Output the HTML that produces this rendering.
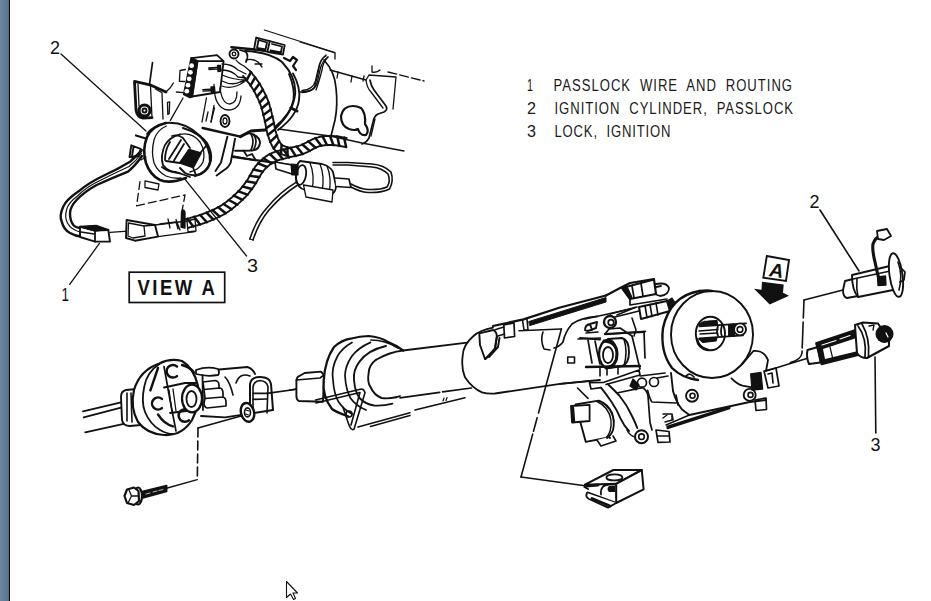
<!DOCTYPE html>
<html><head><meta charset="utf-8"><style>
html,body{margin:0;padding:0;background:#fff;width:931px;height:601px;overflow:hidden}
#strip{position:absolute;left:0;top:0;width:8px;height:601px;background:linear-gradient(to right,#6e88a1,#5a7491)}
#edge{position:absolute;left:8px;top:0;width:2px;height:601px;background:linear-gradient(to right,#5a6b7c 0,#5a6b7c 50%,#060c14 50%,#060c14 100%)}
svg{position:absolute;left:0;top:0}
svg text{font-family:"Liberation Sans",sans-serif}
</style></head><body>
<div id="strip"></div><div id="edge"></div>
<svg width="931" height="601" viewBox="0 0 931 601">
<g id="legend" fill="#1a1a1a" font-size="15.6" word-spacing="5">
<text x="527" y="91" textLength="6" lengthAdjust="spacingAndGlyphs">1</text>
<text transform="translate(553.5,91) scale(0.84,1)" textLength="284" lengthAdjust="spacing">PASSLOCK WIRE AND ROUTING</text>
<text x="527" y="114" textLength="9" lengthAdjust="spacingAndGlyphs">2</text>
<text transform="translate(554.5,114) scale(0.84,1)" textLength="284" lengthAdjust="spacing">IGNITION CYLINDER, PASSLOCK</text>
<text x="527" y="136.5" textLength="9" lengthAdjust="spacingAndGlyphs">3</text>
<text transform="translate(554.5,136.5) scale(0.84,1)" textLength="138" lengthAdjust="spacing">LOCK, IGNITION</text>
</g>
<g id="labels" fill="#111" font-size="17.5">
<text x="50" y="53.5" textLength="10" lengthAdjust="spacingAndGlyphs">2</text>
<text x="61.5" y="300.5" textLength="7.5" lengthAdjust="spacingAndGlyphs">1</text>
<text x="247" y="271.5" textLength="11" lengthAdjust="spacingAndGlyphs">3</text>
<text x="809.5" y="208" textLength="10" lengthAdjust="spacingAndGlyphs">2</text>
<text x="870.5" y="450.5" textLength="10" lengthAdjust="spacingAndGlyphs">3</text>
</g>
<g id="viewa">
<rect x="129.2" y="272.2" width="95.5" height="30.3" fill="none" stroke="#111" stroke-width="1.7"/>
<text transform="translate(137.5,295.4) scale(0.86,1)" font-size="21.5" font-weight="bold" fill="#111" textLength="90" lengthAdjust="spacing">VIEW A</text>
</g>
<g id="arrowA">
<path d="M766.8,256 L789,260 L786,281 L763.3,277.6 Z" fill="none" stroke="#111" stroke-width="1.9"/>
<text x="0" y="0" font-size="19.5" font-weight="bold" fill="#111" transform="translate(768,276) rotate(8) skewX(-8)">A</text>
<path d="M762,281.7 L783.7,284.6 L783,292.8 L789,295.7 L769.7,304.4 L754,288.7 L761.5,289.8 Z" fill="#111"/>
</g>
<g id="cursor">
<path d="M286.5,581.5 L286.5,597.5 L290.5,594 L293.5,599.5 L295.5,598.5 L293,593 L297.5,593 Z" fill="#fff" stroke="#111" stroke-width="1.1" stroke-linejoin="round"/>
</g>
<g id="draw" fill="none" stroke="#111" stroke-width="1.3" stroke-linecap="round" stroke-linejoin="round">
<!--parts/10_inset1.svg -->
<!-- leader 2 -->
<path d="M61,54 L146,131"/>
<!-- bracket left -->
<path d="M152.5,62.7 L149.5,84.4" stroke-width="1.7"/>
<path d="M134.5,81.4 L151,85.2 L166,92 M134.5,81.4 L136,110 Q137,117 143,118 L152,117.6" stroke-width="2.8"/>
<path d="M138,84 L139,106 M150.5,86 L152,118 M155.5,89 L162,92.7 L163,119"/>
<path d="M166,92 Q171,88 173.4,83"/>
<path d="M167.5,102.4 L169.7,101.8 L169.2,113.4 L167.8,114.4 Z"/>
<circle cx="144.5" cy="110.5" r="5.5" stroke-width="3.1"/>
<circle cx="144.5" cy="110.5" r="2" stroke-width="1.9"/>
<path d="M183,98 L170.4,120.4"/>
<path d="M176.4,92 L183,92.6"/>
<!-- connector block -->
<path d="M191.4,58.2 L217,55.2 L223.6,61.2 M191.4,58.2 L197.4,61.2 L223.6,61.2 M197.4,61.2 L192,96.5 L220,92 L223.6,61.2" stroke-width="1.8"/>
<path d="M191.4,58.2 L197.4,61.2 L192,96.5 L190,97.2 L184,94.2 Z" fill="#111" stroke-width="2.2"/>
<g fill="#fff" stroke="none"><circle cx="191.6" cy="65.7" r="2.4"/><circle cx="190.4" cy="72.3" r="2.4"/><circle cx="189.2" cy="78.8" r="2.4"/><circle cx="188" cy="85.2" r="2.4"/><circle cx="186.8" cy="91.2" r="2.4"/></g>
<path d="M185.4,69.5 L180,70.5 L179.4,81.4 L184.5,81.5"/>
<path d="M208.7,68 L220,67.2 M209,69.5 L220,68.8 M202.7,89.7 L214,89 M203,91.2 L214,90.5"/>
<path d="M217.5,65.5 L220.5,65.3 L221,71 L218,71.5 Z M211,87 L214.5,86.8 L215,93 L211.5,93.2 Z" fill="#111"/>
<path d="M202,122 L206.4,98 M211,122 L214,105.4"/>
<!-- wires from connector -->
<path d="M222,64 Q232,64 238,70 L246,74 M222,70 Q232,70 238,77 L246,78 M222,75 Q234,80 246,80 M222,81 Q232,86 240,82 L246,80.5 M222,86 Q232,90 244,82"/>
<path d="M214,84.4 Q214,108 228,110 Q240,110 241,96 M220,88 Q222,104 230,104 Q237,103 237,92"/>

<!-- top housing -->
<path d="M264.4,30 L335,52.5"/>
<path d="M256.2,37.5 L269.7,41.2 L267.4,51.7 L254,49.5 Z M258.5,40 L267,42.5 L265.5,49.5 L257,48 Z" stroke-width="1.8"/>
<path d="M269.7,41.2 L284.7,45 L283,54.7 L268,52 M272,44 L282,46.5 L281,52.5 L270.5,50.5" stroke-width="1.8"/>
<path d="M231.5,47.2 L254.7,49.5" stroke-width="2.6"/><circle cx="234" cy="54" r="4.5" stroke-width="1.9"/><circle cx="234" cy="54" r="1.8"/><path d="M240,50 L246,52 Q249,56 246,62" stroke-width="1.8"/>
<path d="M245,51 Q270,52 282,62 Q297,78 295,95 Q293,112 276,128" stroke-width="1.9"/>
<path d="M293,73.4 Q301,88 299,100 Q297,116 278,130 M289,74 Q295,88 293.5,100 Q291,114 275,127" stroke-width="1.9"/><path d="M291,108 L297,111" stroke-width="3"/>
<path d="M284,58 L290,61 L293,57 L297,60 L293,66 L296,70" stroke-width="2.2"/>
<path d="M326,56 Q320,58 318,70 L315.4,81 Q313,90 302,90.5 M328,57 Q322,61 320,70 L317.4,82 Q315,92 302,92.5"/>
<path d="M246,60 Q252,58 258,62 L262,67 M255,64 L262,64 M236,60 Q238,63 244,66 Q249,70 252,73"/>

<!--parts/12_ring.svg -->
<!-- ring outer -->
<path d="M166,123 Q152,126 147,137 Q142,150 146,163 Q150,175 160,180 Q170,184 186,178" stroke-width="2.6"/><path d="M158,125.5 Q150,129 147,134" stroke-width="1.8"/>
<path d="M166.4,126 Q157,130 154,140 Q151,152 154,163 Q158,172 166,176 Q174,179 181,178"/>
<path d="M180,134.4 Q170,137 165,145 Q160,156 163,165 Q168,172 180,173.4" stroke-width="1.8"/>
<path d="M165,123 Q185,121 200,136 Q211,148 210,162 Q208,172 195,176" stroke-width="2.2"/>
<path d="M180,134.4 Q192,132 200,142 Q206,152 203,162 Q199,170 190,172"/>
<!-- lock cylinder face -->
<path d="M183,128 Q199,133 207,143 Q212,152 211,160 Q209,170 201,174 Q192,177 185,173 L180,168" stroke-width="2"/>
<path d="M172,136 Q178,134 183,138 L190,148 M201,152 L206,146 M170,142 Q165,150 165,160" stroke-width="1.8"/>
<path d="M189,149.5 L201,153 L193.5,167 L180,162.5 Z" fill="#111" stroke-width="1.7"/>
<path d="M169,159 L181,140 M174,160.5 L184,144 M166,161 L180,163 L193,167.5 L196,175" stroke-width="1.8"/>
<path d="M162,167 Q168,172 176,172 Q185,175 190,177" stroke-width="1.8"/>
<path d="M136,135.5 L145,138.3" stroke-width="2.2"/><path d="M131.3,145.3 L140.6,148.8 L139,156 L129.5,157 Z M133.5,147 L132,156" stroke-width="1.9"/>

<!-- housing body right of ring -->
<path d="M202.6,128 L240.4,136.6" stroke-width="2.4"/>
<path d="M240.4,136.6 L251,131 L265,130" stroke-width="3.1"/>
<path d="M227.4,136.6 L221,162.6 L215.5,171 M235,138.8 L230.7,162.6 Q228,168 224.2,170 L216.6,175.5" stroke-width="1.9"/>
<path d="M240.4,136.6 Q248,132 252,134 Q260,137 260,143 Q259,150 252,150.5 L243.6,150.7 L235,150.7" stroke-width="1.9"/>
<path d="M254,135 Q258,141 254,149 M251,134 Q255,141 251,150" stroke-width="1.7"/>
<path d="M231.8,156 L255.5,160.4 M243.6,150.7 L247,156 L252,154 L255,159" stroke-width="1.8"/>
<path d="M211,122 L214.5,108 M206,121 L208,112"/>
<ellipse cx="225" cy="121" rx="4.5" ry="6" stroke-width="1.9"/><ellipse cx="225" cy="121" rx="2" ry="3"/>


<!--parts/14_plate.svg -->
<path d="M300,42 L335,53 L335,59"/>
<path d="M326,55 Q320,60 319,68 Q317,80 314,88 Q310,92 300,92 M328,57 Q323,62 322,70 Q319,82 316,90"/>
<path d="M324,60 Q335,72 336,88 Q338,105 335,120 L331,136" stroke-width="1.7"/>
<path d="M330,70 L366,80 L369,75 L396,77 L393,109"/>
<path d="M338,72 L337,78 M352,76 L351,82 M364,76 L363,81 M372,66 L372,72 Q377,73 380,70"/>
<path d="M370,80 Q371,86 374,90 L386,106 Q388,110 384,112 L378,114 Q374,116 373,122 L369,138 Q366,143 362,144" stroke-width="1.7"/>
<path d="M366,80 Q367,88 371,92 L383,108 M375,119 L371,136"/>
<path d="M388,72 L424,81" stroke-dasharray="9 3"/>
<path d="M353,106 Q343,106 341,116 Q341,126 349,129 Q355,131 358,129 Q360,136 366,135 Q370,131 365,124 Q366,113 361,108 Q357,106 353,106 Z" stroke-width="2.2"/>
<path d="M279,129 L300,132 L330,136 L362,143 L404,151"/>

<!--parts/16_loop.svg -->
<!-- cable loop -->
<path d="M141.6,150 Q137,156 130,161.7 Q118,169 105,175 Q88,183 78.3,191.6 Q66,200 63.3,206.6 Q59,216 61.7,221.6 Q64,230 70,233 Q75,236 81.6,236.6" stroke-width="2.4"/>
<path d="M142,156 Q135,166 128,171.6 Q112,178 96.6,185 Q84,192 76.6,200 Q70,207 70,213.3 Q70,221 73.3,225 Q76,228 81.6,228.2" stroke-width="2.4"/>
<path d="M141.8,153 Q136,161 129,166.5 Q115,173 101,180 Q86,187 77.5,196 Q68,203 66.5,210 Q64.5,218 67.5,223 Q71,230 81.6,232.4" stroke-width="1.2"/>
<path d="M141,160 L146,157 M132,158 L142,151"/>
<!-- connector 1 -->
<path d="M80,226.6 L96.6,225.8 L108.3,230 L110,241.6 L95,241.6 L80,237 Z" fill="#fff" stroke-width="1.9"/>
<path d="M95,230.5 L108.3,230 M95,230.5 L95,241.6 M80,226.6 L95,230.5" stroke-width="1.8"/>
<path d="M80.5,227 L96.6,226 L106,229.5 L95,231 Z" fill="#111"/><path d="M81,232 L94,234" stroke-width="1.4"/>
<path d="M110,232.4 L135,230.7"/>
<!-- connector 2 -->
<path d="M126.6,220 L155,225 L158,236.6 L135,240.7 L126,238 Z" fill="#fff" stroke-width="1.9"/>
<path d="M128.5,223 L144,226 L145,236 L133,238 L128,236 Z"/>
<path d="M155,225 L195,220 M158,236.6 L195,231.6 M144,226 L155,225"/>
<path d="M160,224 L176,222 L178,229 M168,219 L170,228 M176,219.5 L180,230"/>
<path d="M181,227 L181.5,212 Q183,208 185,212 L185,228 Z" fill="#111"/>
<path d="M187,221 L195,219 L196,231 L188,232 Z" fill="#fff"/>
<!-- dashed shape -->
<path d="M140,181.6 L136.6,205.8 M136.6,205.8 L185,195 L181.6,213.3" stroke-dasharray="8 4"/>
<path d="M145,180.8 L159,184 L158,190 L145,187.5 Z"/>
<!-- leaders -->
<path d="M69.7,284.4 L99.4,243.4"/>
<path d="M246.5,256 L184.3,178.3"/>

<!--parts/18_module.svg -->
<!-- thin long wire -->
<path d="M249.8,239 Q256,220 266.8,208 Q280,192 296,182.4 M253,240 Q259,222 269,210 Q282,195 297,185.5" stroke-width="1.6"/>
<path d="M249.8,239 L253,240"/>
<!-- module cylinder -->
<path d="M300,161 L322,164 Q330,166 333,172 L336,186 Q336,193 330,195 L305,190 Q297,188 296,178 Q295,165 300,161 Z" fill="#fff" stroke-width="1.8"/>
<ellipse cx="301" cy="175" rx="5" ry="10" transform="rotate(10 301 175)" stroke-width="1.8"/>
<path d="M310,163 Q315,175 312,190 M320,164 Q325,176 322,192 M327,166 Q332,178 329,193"/>
<path d="M303.5,185 L333,190 L332,202 L306,197 Z" fill="#fff"/>
<path d="M232.5,157 L291,165" stroke-width="2.2"/><path d="M275,162 L292,165 L292,174 L276,169 Z" fill="#fff" stroke-width="1.7"/><path d="M291,164 L298,164.5 L298,175 L292,175 Z" fill="#111" stroke-width="1.2"/>
<path d="M335.6,178 L349,179 L351,187.5 L336,186.5" fill="#fff" stroke-width="1.7"/>
<!-- wire loop -->
<path d="M351,184 Q360,189 368,189.5 Q380,190 387,187 Q391,181 388,174 Q382,168 372,167 L348,165 L333,165 M351,187 Q360,192 368,192.5 Q382,193 389.5,189 Q394,181 391,172 Q384,165 372,164 L348,162.5 L333,162.5" stroke-width="1.6"/>

<!--parts/30_ujoint.svg -->
<!-- shaft -->
<path d="M83,411.4 L121,402.4 M83.7,417.4 L121,407.7 M85.2,432.4 L126,423.4" stroke-width="1.8"/>
<!-- collar -->
<path d="M137,389 L126,390 Q121,391 121,397 L122,420 Q123,426 130,426 L141,425" stroke-width="1.9" fill="#fff"/>
<path d="M127,393 L127,421 M131,393 L132,422" stroke-width="1.6"/>
<!-- disc -->
<path d="M159.4,363.5 Q140,370 134,390 Q130,408 138,422 Q147,434 164,435 Q182,436 192,420 Q200,405 198,386 Q194,368 182,361 Q170,358 159.4,363.5 Z" fill="#fff" stroke-width="2.2"/>
<path d="M159.4,364 Q147,372 144.4,386 Q141,402 145,412 Q150,424 160,430 Q167,434 173,434" stroke-width="1.8"/>
<path d="M158,368 L150.4,390.4 M158,414.4 Q164,424 173,426.4 M182,365 Q190,367 194,372.5" stroke-width="2.4"/>
<path d="M177.0,366.5 A6.3,6.3 0 1 0 177.0,376.1 M161.9,398.9 A6.0,6.0 0 1 0 161.9,408.1 M189.0,410.7 A6.3,6.3 0 1 0 189.0,420.3" stroke-width="2.5"/>
<path d="M164,366.5 L170,400 L176,431" stroke-width="1.7"/>
<!-- yoke block -->
<path d="M164,387.5 L185,383 L196,383 M170,413 L194,410" stroke-width="1.8"/>
<path d="M169,390 L172,412 M173,389 L176,411"/>
<!-- yoke end -->
<ellipse cx="192" cy="398.5" rx="10" ry="13.8" fill="#fff" stroke-width="2.2"/>
<ellipse cx="191.5" cy="399" rx="5" ry="8" stroke-width="1.8"/>
<!-- cross / spider -->
<path d="M196,370 Q207,366 218,369 Q220,373 218,375 Q207,377 196,374 Z" stroke-width="1.8" fill="#fff"/>
<path d="M203,382 L215,380.5 Q219,381 219,385 L219,388 L204,389.5 Z M204,389.5 L220,388 Q223,389 223,393 L223,397 L205,398.5 Z M205,398.5 L223,397 Q226,398 226,402 L226,406 L207,408 Q204,407 204,403 Z" fill="#fff" stroke-width="1.7"/>
<path d="M202.5,375 L203,410" stroke-width="1.8"/>
<!-- yoke housing -->
<path d="M219,369.5 L247.4,367 Q253,369 255,374 M201,416 L225,417.4 L273,410" stroke-width="1.9"/>
<path d="M225,377 Q230,382 233,395 M236,383 Q240,372 250,376" stroke-width="1.6"/>
<path d="M250,416 L250,384 Q251,377 260,377 Q270,377 271,384 L273,410" stroke-width="2"/>
<path d="M253,413 L253,387 Q254,381 260,380.5 Q267,381 268,387 L267,413" stroke-width="1.6"/>
<path d="M253,393.4 L267,393.4 M253,399.4 L267,399" stroke-width="1.6"/>
<ellipse cx="247.5" cy="412.4" rx="6.5" ry="9.5" transform="rotate(-15 247.5 412.4)" stroke-width="2.4" fill="#fff"/>
<ellipse cx="247.5" cy="412.4" rx="3" ry="4.5" stroke-width="1.6"/><path d="M246,410 L249,411 M245.5,414 L248.5,415" stroke-width="1.2"/>
<path d="M267,393.4 L298.4,389" stroke-width="1.6"/>
<!-- dashed leader to bolt -->
<path d="M241,416 L198,428" stroke-width="1.6"/><path d="M198,428 L197.3,479.7" stroke-dasharray="9 4" stroke-width="1.6"/>
<path d="M197.3,479.7 L167.4,488" stroke-width="1.4"/>
<!-- bolt -->
<path d="M140,492 L166.6,485.5 L166.6,491.5 L141,498.5 Z" fill="#111" stroke-width="1.7"/>
<path d="M146,494 L150,493 M153,492 L157,491 M159,490.5 L163,489.5" stroke="#fff" stroke-width="0.7"/>
<ellipse cx="138" cy="496" rx="4" ry="8.5" fill="#fff" stroke-width="2.2"/>
<path d="M127,489.5 L134,487.5 L138.5,491 L139,501 L134,505 L127,503 L124.5,496 Z" fill="#fff" stroke-width="2.2"/>
<path d="M129,490 L131.5,496 L128,503 M131.5,496 L138.5,496" stroke-width="1.3"/>

<!--parts/32_boot.svg -->
<!-- clip block left -->
<path d="M290,390 L296.4,389" stroke-width="1.6"/>
<path d="M299,376.2 L304.6,373 L321,371.6 L324,375 L323,401.8 L299,401 Q296.4,400 296.4,396 L296.4,380 Q297,377 299,376.2 Z" fill="#fff" stroke-width="1.9"/>
<path d="M296.4,380 L320,378 L324,375" stroke-width="1.6"/>
<!-- boot rings -->
<path d="M348.5,416.5 Q336,412 332,409 Q322,396 323.8,380 Q325,360 334,347 Q342,340 350.4,338.7 Q360,336 368.7,336 Q380,337 387,341.5 Q396,345 403.4,350.6" fill="#fff" stroke-width="2.2"/>
<path d="M352,342.4 Q342,348 337.6,356 Q331,368 333,380 Q334,394 338.5,401.8 Q344,410 352,414" stroke-width="1.7"/>
<path d="M370.5,342.4 Q358,348 352,356 Q345,366 345,376 Q346,390 350.4,398 Q356,406 366,410 M371,340 Q385,340 398,348" stroke-width="1.7"/>
<path d="M386,346 Q368,350 359.5,361.6 Q353,370 354,380 Q355,392 359.5,398 Q365,404 374,405.5 Q384,406 392.4,403.7" stroke-width="1.9"/>
<path d="M376,359.7 Q369,365 368.7,372.6 Q367,382 370.5,387 Q374,395 381.5,398 Q388,399 396,397.3" fill="#fff" stroke-width="1.9"/>
<path d="M376,359.7 Q390,352 403,350.5 L467,342.7" stroke-width="1.8"/>
<path d="M396,397.3 L400,396" stroke-width="1.8"/>
<path d="M400,397.8 L471.4,388" stroke-dasharray="40 3 30 3" stroke-width="1.7"/>
<!-- triangle wire bracket -->
<path d="M315.6,400 L361.3,389 Q364,389 365,392.7 L354,429.3 Q351,431 348.5,423.8 L343,407.3 M316,403 L360,392.5 L351,425" stroke-width="1.6"/>
<circle cx="349" cy="414" r="3" stroke-width="1.6"/>
<!-- dashes below -->
<path d="M358,427 L410,412.8 M415,410 L465,397.8" stroke-width="1.6"/>
<path d="M370.5,426.5 L410,415.5" stroke-width="1.6"/>
<path d="M443,401 L444,398 M446,400.5 L447,397.5" stroke-width="1.2"/>
<!-- jacket -->
<path d="M493,327.6 Q480,330 473.5,336 Q463,345 462.7,355.7 Q461,368 465,377.3 Q472,388 482,392.4 Q488,394 495,393.5 L560,383.8 L600,380" fill="#fff" stroke-width="1.8"/>
<path d="M493,326 L523.5,319.4 L560,307.5 L606,295.5" stroke-width="2.3"/>
<path d="M530,325.5 L606,302 L606,297.5 L529,321.5 Z" fill="#111" stroke-width="1"/>
<path d="M522.5,320 L524,330 L528,330 L527,319" stroke-width="1.6"/>
<!-- clip on jacket -->
<path d="M479.3,333.4 L493.3,330 Q497,332 496.8,337 L495,348.5 Q491,355 485,359 L480,345 Z" fill="#fff" stroke-width="1.9"/>
<path d="M485.5,359 L495,348.5 L496.8,337 M489,357 L498,347 L499.5,338" stroke-width="1.9"/>
<path d="M503.8,325 L514,322.8 L514.6,336.5 L504.5,338 Z" fill="#fff" stroke-width="1.7"/>
<path d="M495,329.7 L503.8,327 M498,336 L504.5,334" stroke-width="1.6"/>
<!-- leader dashed for clip nut -->
<path d="M519,330.8 L561.4,329" stroke-width="1.6"/><path d="M561.4,329 L521,477" stroke-dasharray="87 5 14 3 100" stroke-width="1.6"/><path d="M521,477 L586.8,486" stroke-width="1.6"/>
<path d="M543,332 Q540,340 544,349 L550,350" stroke-width="1.6"/>

<!--parts/34_housing.svg -->
<!-- jacket top continuation -->
<path d="M606,295.5 L621,287.5 L630,283 L654,279" stroke-width="2.2"/>
<!-- top connector -->
<path d="M622,288 L654,279.5 L656,294 L630,299 Z" fill="#fff" stroke-width="2.2"/>
<path d="M622,288 L627,286.5 L632,297.5 L630,299 Z" fill="#111" stroke-width="1.2"/>
<path d="M632,286 L634,297.5 M641,283.5 L643,296" stroke-width="1.7"/>
<path d="M655.5,284 Q667,282 669,288 Q669,295 660,296 L656,294.5 M656,287 L661,286" stroke-width="1.8"/>
<path d="M630,299 L630,305 L667,299" stroke-width="1.7"/>
<!-- lower connector tube -->
<path d="M639,307 L667,301 L670,311 L641,319 Z" fill="#fff" stroke-width="2"/>
<path d="M645,305.5 L647,317.5 M650,304.5 L652,316.5 M656,303 L658,315" stroke-width="1.6"/>
<path d="M610,314 L637,307 M611,318 L639,311" stroke-width="1.6"/>
<path d="M667,301 L672,298 L676,304 L670,311 Z" fill="#111" stroke-width="1.2"/>
<!-- frame lines -->
<path d="M597.4,316.4 Q580,318 572,324 Q565,332 563,342 Q559,347 554,348" stroke-width="1.7"/>
<path d="M617,315 L635,307.5 M605,334.4 L645.4,331.4 M578,339 L600.4,338 M560,383.8 L589.5,381" stroke-width="1.7"/>
<path d="M585,319 L608,314 L630,309" stroke-width="1.6"/>
<circle cx="610" cy="322" r="6" fill="#fff" stroke-width="2.3"/><circle cx="611" cy="322.5" r="2.8" stroke-width="1.7"/>
<path d="M585,330 Q585,325 590,324 L597,322 L596,328 L588,331 Z M590,324 L592,330" stroke-width="1.9"/><path d="M586,333 L598,332" stroke-width="1.6"/>
<path d="M632,318 L636,330 L634,336" stroke-width="1.6"/>
<!-- bore -->
<path d="M588,340 Q590,352 592,363 M595,341 Q597,352 600,364 M632,336 L640,369 M644,332 L645,358" stroke-width="1.7"/>
<path d="M605,334 L644,332 M580,338 L600,339.5" stroke-width="1.9"/>
<path d="M605,334 L609,329 L620,328 L632,336" stroke-width="1.7"/>
<path d="M608,339 L622,338 Q629,340 629,352 Q629,364 622,366 L610,368" fill="#fff" stroke-width="1.9"/>
<path d="M624,339 Q628,352 624,366" stroke-width="1.6"/>
<ellipse cx="608" cy="354" rx="9" ry="14" fill="#fff" stroke-width="2.3"/>
<path d="M604,341 Q617,342 617,354 Q617,366 606,368" stroke-width="2.9"/>
<ellipse cx="608" cy="355" rx="5" ry="8" stroke-width="1.8"/>
<path d="M586,367 L640,366" stroke-width="2.4"/>
<path d="M600,368 L600,376 M607,368 L607,375 M618,367 L618,374" stroke-width="1.6"/>
<path d="M567.7,357 L574.5,357 L574.5,363 L567.7,363 Z" stroke-width="1.6"/>
<!-- lever & arm -->
<path d="M589.5,382.6 L604,382.3 L639,370 L640,375 L606,384.5 M589.5,382.6 L591,389 L601,387.7" stroke-width="1.7"/>
<path d="M601,387.7 Q606,394 611.6,402 Q617,410 620.6,418.7 Q624,426 629,431" stroke-width="1.9"/>
<path d="M607.7,384 Q613,389 619.3,395.5 Q627,405 632,416 Q635,422 637.3,428" stroke-width="1.9"/>
<path d="M616.7,393 L642.5,387.7 Q647,390 648,396 L650,422.5 L652,430" stroke-width="1.7"/>
<path d="M647.6,390.3 Q650,400 652,402 L676,403 M676,395 L678,405" stroke-width="1.7"/>
<path d="M577.5,388 L588,398.4" stroke-width="1.6"/>
<circle cx="642" cy="382.7" r="4.5" stroke-width="1.7"/><circle cx="654" cy="382" r="4.5" stroke-width="1.7"/>
<path d="M633,379 L639,385 L636,390 L630,386 Z" fill="#111"/>
<path d="M640,376 L665,373 M657,378 L668,376" stroke-width="1.6"/>
<!-- motor -->
<path d="M575.5,404.5 L598.7,400.6 Q608,404 612,413 Q615,422 613,430 Q611,436 606,438 L585.8,441.9 Z" fill="#fff" stroke-width="1.9"/>
<path d="M597,401.5 Q609,407 611,420 Q612,432 606,438 M600,401 Q612,408 614,421" stroke-width="1.4"/>
<path d="M571,406 L589.6,404.8 L589.6,421 L572,422.5 Z" fill="#fff" stroke-width="1.8"/>
<path d="M572.5,408 L573.5,421.5" stroke-width="3.4"/>
<path d="M597,440 L601,446 L616,441 L613,436" fill="#fff" stroke-width="1.6"/>
<path d="M607,438 Q608,436 610,438" stroke-width="1.8"/>
<!-- lever pivot bottom -->
<path d="M627,430 Q630,436 635,437" stroke-width="1.6"/>
<circle cx="641.5" cy="436.7" r="6.5" fill="#fff" stroke-width="2"/><circle cx="641.5" cy="436.7" r="2.8" stroke-width="1.6"/>
<path d="M656,430 L658,442.4 L670,442 L669,431.5 Z M658,436 L669.5,436" fill="#fff" stroke-width="1.7"/>
<path d="M663,414 L672,414 L673,420" stroke-width="1.6"/>
<!-- disc -->
<path d="M699.4,291 Q670,296 663,328 Q660,352 672,368 Q682,378 698,380" fill="#fff" stroke-width="2.4"/>
<ellipse cx="712" cy="334.5" rx="41" ry="43.5" fill="#fff" stroke-width="1.9"/>
<path d="M699.4,291 Q708,290 712,291" stroke-width="2.6"/>
<!-- spline shaft -->
<ellipse cx="710.4" cy="333.5" rx="14.6" ry="16.8" stroke-width="1.9"/>
<path d="M699.4,326.4 L746,323.4 M699.4,338.4 L743,335.4" stroke-width="1.8"/>
<path d="M699,331 L718,329.5 M700,334 L717,333" stroke-width="1.4"/>
<path d="M718,326 Q716,331 718,336 M722,325.5 Q720,331 722,336.5 M729,325 L729,336 L734,336 L734,324.5 Z" stroke-width="1.8"/>
<path d="M729,325 L734,324.5 L734,336 L729,336 Z" fill="#111"/>
<circle cx="740" cy="329.4" r="6" fill="#fff" stroke-width="1.9"/><circle cx="740" cy="329.4" r="2.8" stroke-width="1.6"/>
<path d="M699,325.5 Q701,321 708,321 L717,320.5 L717.5,325 Z" fill="#111" stroke-width="1.2"/>
<path d="M699,339 L717,337.5 L716,341 L703,342.5 Z" fill="#111" stroke-width="1.2"/>
<path d="M697,339 Q698,348 708,350" stroke-width="2.6"/>
<!-- housing plate under disc -->
<path d="M671,373 L673,391 Q676,402 682,409.5 L689.4,415 L749.7,402 L766,400" stroke-width="1.9"/>
<path d="M731.5,378.4 Q737,384 742.4,385.7 L753.4,387.6 M742.4,363.8 L753.4,351 Q764,350 768,360 L766,371" stroke-width="1.8"/>
<circle cx="692" cy="395.8" r="6" fill="#fff" stroke-width="1.9"/><circle cx="692.5" cy="395.8" r="2.5" stroke-width="1.6"/>
<circle cx="749.7" cy="394.9" r="6" fill="#fff" stroke-width="1.9"/><circle cx="750.5" cy="394.9" r="2.5" stroke-width="1.6"/>
<path d="M750.7,374 L761,372.5 L762.6,389 L752,390 Z" fill="#111"/>
<path d="M764,371 L776,368 L779,386 L768,388 Z M768,374 L772,373 L773,383" stroke-width="1.7"/>
<path d="M755,400 L766,398 L766.5,409.5 L756,410.5 Z" stroke-width="1.7"/>
<path d="M686,376 Q690,372 694,377" stroke-width="1.7"/>
<!-- bottom dark strip -->
<path d="M667.4,428.5 L729.6,408.6 L730,406.5 L667,426.5 Z" fill="#111" stroke-width="1.4"/>
<path d="M665,422 L672,420 L672,416 M663,418 L667,415" stroke-width="1.4"/>
<path d="M689.4,415 L666,425" stroke-width="1.4"/>
<!-- line to component 3 -->
<path d="M766,371 L810,357.4" stroke-width="1.6"/>

<!--parts/36_right.svg -->
<!-- leader 2 right -->
<path d="M820,210 L859,271" stroke-width="1.6"/>
<!-- component 2 -->
<path d="M843,290 L804,300" stroke-width="1.6"/><path d="M804,300 L802,353 Q801,360 790,362.6" stroke-dasharray="18 4 26 3" stroke-width="1.6"/>
<path d="M845,281 L853,279 Q857,280 858,288 L858,296 L847,298 Q843,297 843,290 Z" fill="#fff" stroke-width="1.9"/>
<path d="M852,275 L894,265 L898,289 L858,297 Q852,290 852,275 Z" fill="#fff" stroke-width="1.9"/>
<path d="M853,279 L895,270" stroke-width="1.6"/>
<path d="M858,297 Q856,288 857,279" stroke-width="1.6"/>
<ellipse cx="896" cy="275" rx="6.5" ry="22" transform="rotate(-8 896 275)" fill="#fff" stroke-width="1.9"/>
<path d="M898,262 Q903,275 899,290" stroke-width="1.6"/>
<path d="M901,268 L905,272 L904,280 L900,282" stroke-width="1.7"/>
<path d="M880,283 Q877,272 875,262 Q872,250 873,244 Q875,238 880,236" stroke-width="3.1"/>
<path d="M877,231 L887,229 L891,236 L884,240 L878,239 Z" fill="#fff" stroke-width="1.8"/>
<path d="M877.5,277 L885.5,276 L886,285 L878,285.5 Z" fill="#111"/>
<!-- component 3 -->
<path d="M807.5,350 L818,347 L820.5,362.5 L809,364 Q806,357 807.5,350 Z" fill="#fff" stroke-width="2"/>
<path d="M816,343 L854.8,330 L860,354.7 L821.5,364.4 Z" fill="#111" stroke-width="1.8"/>
<path d="M823,349 L855,338.5 L858,351 L825,359 Z" fill="#fff" stroke="none"/>
<path d="M830,347 L832.5,357.5" stroke-width="1.2"/>
<path d="M822,345 L836,340.5 M840,339 L850,335.5" stroke="#fff" stroke-width="1.1"/>
<path d="M855,325 L863,322.5 L878,323.5 L889,340 L889,346 L867,358 Q860,358 857,353 Q856,340 855,325 Z" fill="#fff" stroke-width="2"/>
<path d="M858,326 Q867,338 865,357 M862,324 Q870,338 868.5,356" stroke-width="1.7"/>
<circle cx="884.5" cy="334" r="9" fill="#111" stroke="none"/>
<path d="M886,333 L888,337" stroke="#fff" stroke-width="1.2"/>
<path d="M869,326 L874,325 L873,330" stroke-width="1.3"/>
<!-- leader 3 right -->
<path d="M875,357 L875.8,433" stroke-width="1.6"/>
<!-- clip nut -->
<path d="M585,484.7 L613.4,470 L641.8,470 L616.2,483.8 Z" fill="#fff" stroke-width="2"/>
<path d="M616.2,483.8 L641.8,470 L643.6,489.3 L616.2,503 Z" fill="#fff" stroke-width="2"/>
<ellipse cx="614.4" cy="477.4" rx="8" ry="3" stroke-width="1.8"/>
<path d="M585,484.7 L584.5,487 L588,489 M587.5,492.5 L616.2,503" stroke-width="2"/>
<path d="M601,494.5 Q600,485 609,484.5 L616,484.5 L616,497" fill="#fff" stroke-width="1.8"/>
<path d="M609,486 Q606,489 609,492 L615,492 L615,486 Z" fill="#111" stroke="none"/>
<path d="M587,493 Q585,497 589,499 L608,507.6 L616.2,503" fill="#fff" stroke-width="1.8"/>
<path d="M592,498.5 L610,506" stroke-width="2.9"/>
<path d="M586,486 L598,485" stroke-width="3.1"/>

<!--parts/20_hoses.py -->
<path d="M243.1,76 L243.5,76.4 L243.9,76.9 L244.3,77.5 L244.8,78.1 L245.3,78.7 L245.8,79.4 L246.4,80.1 L247,80.8 L247.6,81.6 L248.2,82.4 L248.9,83.2 L249.5,84 L250.1,84.8 L250.7,85.6 L251.2,86.4 L251.7,87.2 L252.2,88 L252.7,88.7 L253.1,89.4 L253.5,90.1 L253.9,90.9 L254.4,91.6 L254.8,92.4 L255.2,93.2 L255.6,94 L256,94.8 L256.4,95.6 L256.8,96.4 L257.2,97.2 L257.6,98 L258,98.8 L258.4,99.6 L258.7,100.4 L259.1,101.2 L259.4,102 L259.7,102.8 L260,103.5 L260.3,104.4 L260.6,105.2 L260.9,106 L261.2,106.8 L261.4,107.6 L261.7,108.4 L261.9,109.3 L262.2,110.1 L262.4,110.9 L262.6,111.8 L262.8,112.6 L263,113.5 L263.2,114.3 L263.4,115.2 L263.7,116.1 L263.9,117 L264.1,117.8 L264.3,118.7 L264.5,119.6 L264.7,120.4 L264.9,121.3 L265.1,122.1 L265.2,123 L265.4,123.9 L265.6,124.8 L265.8,125.7 L265.9,126.7 L266.1,127.6 L266.3,128.5 L266.5,129.4 L266.7,130.4 L266.9,131.3 L267.1,132.2 L267.3,133.2 L267.6,134.1 L267.9,135 L268.2,135.9 L268.5,136.9 L268.8,137.9 L269.1,138.8 L269.5,139.8 L269.8,140.8 L270.2,141.7 L270.6,142.7 L271,143.6 L271.5,144.6 L271.9,145.5 L272.4,146.4 L273,147.3 L273.5,148.2 L274.2,149 L274.8,149.8 L275.9,150.9 L277,151.8 L278.2,152.5 L279.4,153.2 L280.5,153.7 L281.6,154.2 L282.7,154.6 L283.7,154.9 L284.5,155.2 L285.3,155.5 L285.8,155.7 L286.1,155.8 L286.2,155.8 M249.9,70.8 L250.2,71.2 L250.5,71.6 L250.9,72.1 L251.4,72.7 L251.9,73.3 L252.4,74 L253,74.8 L253.7,75.5 L254.3,76.3 L255,77.2 L255.6,78 L256.3,78.9 L256.9,79.8 L257.6,80.7 L258.2,81.6 L258.8,82.6 L259.4,83.5 L259.9,84.3 L260.4,85.1 L260.9,85.9 L261.3,86.7 L261.8,87.5 L262.2,88.3 L262.7,89.2 L263.2,90 L263.6,90.9 L264,91.7 L264.5,92.6 L264.9,93.5 L265.3,94.4 L265.7,95.2 L266.1,96.1 L266.5,97 L266.9,97.9 L267.3,98.7 L267.6,99.6 L268,100.5 L268.3,101.4 L268.7,102.3 L269,103.3 L269.3,104.2 L269.6,105.1 L269.8,106 L270.1,107 L270.4,107.9 L270.6,108.8 L270.8,109.7 L271.1,110.6 L271.3,111.5 L271.5,112.3 L271.7,113.2 L271.9,114.1 L272.1,115 L272.3,115.8 L272.6,116.7 L272.8,117.6 L273,118.6 L273.2,119.5 L273.4,120.5 L273.6,121.4 L273.8,122.4 L273.9,123.3 L274.1,124.2 L274.3,125.1 L274.4,126 L274.6,126.9 L274.8,127.7 L275,128.6 L275.1,129.4 L275.3,130.2 L275.5,131 L275.7,131.7 L276,132.4 L276.2,133.3 L276.5,134.2 L276.8,135.1 L277.2,136 L277.5,136.9 L277.8,137.7 L278.1,138.6 L278.4,139.4 L278.8,140.2 L279.1,140.9 L279.5,141.6 L279.8,142.2 L280.2,142.8 L280.5,143.3 L280.8,143.8 L281.2,144.2 L281.5,144.5 L282,144.9 L282.5,145.2 L283.2,145.6 L284,146 L284.8,146.3 L285.6,146.6 L286.5,146.9 L287.3,147.2 L288.1,147.5 L288.8,147.7 L289.6,148.1 L289.8,148.2" stroke-width="1.9"/>
<path d="M246.6,80.3 L250.9,72.2 M250.5,85.4 L255.2,77.5 M254,90.9 L259.5,83.5 M257,96.6 L262.9,89.6 M259.7,102.6 L266.1,95.9 M261.7,108.5 L268.7,102.5 M263.4,114.9 L270.8,109.4 M265,121.6 L272.4,116.2 M266.2,128.1 L273.9,123 M267.8,134.9 L275.1,129.2 M270.2,141.8 L277,135.5 M273.7,148.6 L279.1,141.1 M281,154 L281.6,144.8 M287.6,156.4 L287.4,147.2" stroke-width="2.5"/>
<path d="M188.3,227.8 L188.7,227.7 L189.3,227.5 L189.9,227.4 L190.5,227.2 L191.3,227 L192.1,226.7 L192.9,226.5 L193.8,226.3 L194.8,226 L195.7,225.7 L196.7,225.4 L197.7,225.2 L198.8,224.8 L199.8,224.5 L200.9,224.2 L201.9,223.9 L202.9,223.5 L204,223.2 L205,222.8 L206,222.4 L206.9,222.1 L207.7,221.8 L208.5,221.4 L209.4,221.1 L210.2,220.8 L211.1,220.4 L211.9,220.1 L212.8,219.7 L213.6,219.3 L214.5,219 L215.3,218.6 L216.2,218.2 L217.1,217.8 L217.9,217.4 L218.8,217 L219.7,216.5 L220.5,216.1 L221.4,215.7 L222.2,215.2 L223.1,214.8 L223.9,214.3 L224.8,213.8 L225.6,213.3 L226.4,212.8 L227.2,212.3 L228.1,211.7 L228.9,211.2 L229.7,210.6 L230.5,210 L231.3,209.4 L232.1,208.8 L232.9,208.2 L233.7,207.6 L234.4,207 L235.2,206.4 L235.9,205.7 L236.7,205.1 L237.4,204.5 L238.1,203.9 L238.8,203.2 L239.5,202.6 L240.2,202 L240.8,201.4 L241.5,200.8 L242.1,200.2 L242.7,199.6 L243.4,199 L244.1,198.2 L244.9,197.5 L245.6,196.8 L246.2,196.1 L246.9,195.4 L247.5,194.7 L248.1,194 L248.7,193.3 L249.2,192.6 L249.8,191.9 L250.3,191.1 L250.9,190.4 L251.4,189.7 L252,189 L252.5,188.2 L253.1,187.4 L253.7,186.6 L254.2,185.8 L254.7,185 L255.3,184.2 L255.8,183.4 L256.3,182.6 L256.7,181.7 L257.2,180.9 L257.7,180 L258.2,179.2 L258.6,178.4 L259.1,177.5 L259.6,176.7 L260,176 L260.5,175.2 L260.9,174.4 L261.4,173.7 L261.8,173.1 L262.3,172.4 L262.7,171.8 L263.2,171.3 L263.6,170.7 L264.2,170 L264.8,169.3 L265.4,168.7 L266,168.1 L266.6,167.5 L267.1,167 L267.7,166.4 L268.3,165.9 L268.9,165.4 L269.5,164.9 L270.1,164.5 L270.8,164 L271.4,163.6 L272.1,163.2 L272.7,162.8 L273.4,162.4 L274.1,162 L274.7,161.7 L275.4,161.3 L276.1,161 L276.8,160.8 L277.6,160.5 L278.4,160.2 L279.2,160 L280.1,159.7 L280.9,159.5 L281.8,159.2 L282.7,159 L283.6,158.8 L284.5,158.6 L285.4,158.3 L286.3,158.1 L287.2,157.9 L288,157.7 L288.9,157.4 L289.8,157.2 L290.6,157 L291.5,156.8 L292.3,156.6 L293.1,156.4 L293.9,156.2 L294.8,156 L295.6,155.9 L296.5,155.7 L297.4,155.5 L298.3,155.3 L299.2,155.1 L300.2,154.8 L301.2,154.5 L302.2,154.2 L303.2,153.9 L304.2,153.5 L305.1,153.1 L306,152.7 L306.9,152.3 L307.8,151.9 L308.7,151.4 L309.5,151 L310.4,150.5 L311.3,150.1 L312.1,149.6 L312.9,149.2 L313.8,148.7 L314.6,148.3 L315.4,147.9 L316.1,147.6 L316.9,147.2 L317.6,146.9 L318.3,146.7 L318.9,146.4 L319.6,146.2 L320.4,146 L321.2,145.8 L322.1,145.6 L322.9,145.5 L323.7,145.4 L324.5,145.2 L325.2,145.2 L326,145.1 L326.9,145 L327.7,145 L328.5,145 L329.3,145 L330.2,145 L331,145 L331.9,145 L332.7,145 L333.5,145.1 L334.4,145.2 L335.4,145.3 L336.3,145.4 L337.3,145.5 L338.3,145.7 L339.3,145.9 L340.2,146 L341.2,146.2 L342,146.4 L342.9,146.5 L343.6,146.7 L344.3,146.8 L345,146.9 L345.3,147 M185.7,219.2 L186.2,219 L186.8,218.9 L187.4,218.7 L188.1,218.5 L188.9,218.3 L189.7,218.1 L190.5,217.8 L191.4,217.6 L192.3,217.3 L193.3,217.1 L194.2,216.8 L195.2,216.5 L196.2,216.2 L197.2,215.9 L198.1,215.6 L199.1,215.3 L200.1,215 L201,214.7 L201.9,214.3 L202.8,214 L203.6,213.7 L204.4,213.4 L205.2,213.1 L206,212.8 L206.8,212.4 L207.6,212.1 L208.4,211.8 L209.2,211.4 L210.1,211.1 L210.9,210.7 L211.7,210.4 L212.5,210 L213.3,209.6 L214.1,209.3 L214.9,208.9 L215.7,208.5 L216.4,208.1 L217.2,207.7 L218,207.3 L218.7,206.9 L219.5,206.5 L220.2,206 L220.9,205.6 L221.6,205.2 L222.3,204.7 L223,204.3 L223.8,203.8 L224.5,203.3 L225.2,202.7 L225.9,202.2 L226.6,201.7 L227.3,201.1 L228,200.6 L228.8,200 L229.5,199.4 L230.1,198.8 L230.8,198.3 L231.5,197.7 L232.2,197.1 L232.8,196.5 L233.5,195.9 L234.1,195.4 L234.7,194.8 L235.3,194.2 L235.9,193.7 L236.5,193.1 L237.1,192.5 L237.8,191.9 L238.4,191.2 L239,190.6 L239.6,190 L240.2,189.4 L240.7,188.8 L241.2,188.2 L241.7,187.6 L242.2,186.9 L242.7,186.3 L243.2,185.7 L243.7,185 L244.2,184.3 L244.7,183.7 L245.2,182.9 L245.8,182.2 L246.3,181.4 L246.8,180.8 L247.2,180.1 L247.6,179.5 L248.1,178.7 L248.5,178 L248.9,177.2 L249.4,176.4 L249.9,175.6 L250.3,174.8 L250.8,173.9 L251.3,173.1 L251.8,172.2 L252.3,171.4 L252.8,170.5 L253.3,169.7 L253.8,168.8 L254.4,168 L254.9,167.2 L255.5,166.4 L256.1,165.6 L256.8,164.8 L257.5,164 L258.2,163.3 L258.9,162.5 L259.6,161.8 L260.3,161.1 L261,160.4 L261.7,159.7 L262.5,159.1 L263.2,158.4 L264,157.8 L264.8,157.2 L265.6,156.7 L266.4,156.1 L267.3,155.6 L268.1,155 L269,154.5 L269.9,154 L270.8,153.6 L271.8,153.1 L272.7,152.7 L273.7,152.3 L274.7,152 L275.6,151.7 L276.6,151.4 L277.6,151.1 L278.5,150.8 L279.5,150.5 L280.4,150.3 L281.4,150.1 L282.3,149.8 L283.2,149.6 L284.1,149.4 L284.9,149.2 L285.7,149 L286.5,148.7 L287.5,148.5 L288.4,148.2 L289.4,148 L290.3,147.8 L291.2,147.6 L292.1,147.4 L293,147.2 L293.8,147.1 L294.6,146.9 L295.4,146.7 L296.2,146.5 L297,146.3 L297.8,146.1 L298.6,145.9 L299.4,145.7 L300.2,145.4 L300.9,145.1 L301.5,144.8 L302.3,144.5 L303,144.2 L303.8,143.8 L304.6,143.4 L305.4,143 L306.2,142.6 L307,142.1 L307.9,141.6 L308.8,141.2 L309.6,140.7 L310.5,140.3 L311.4,139.8 L312.3,139.4 L313.3,139 L314.2,138.6 L315.1,138.2 L316.1,137.9 L317.1,137.6 L318.2,137.3 L319.2,137 L320.3,136.8 L321.3,136.6 L322.4,136.4 L323.4,136.3 L324.4,136.2 L325.4,136.1 L326.4,136.1 L327.4,136 L328.3,136 L329.3,136 L330.2,136 L331.1,136 L332.1,136 L333.2,136 L334.3,136.1 L335.4,136.2 L336.5,136.3 L337.6,136.5 L338.7,136.7 L339.8,136.8 L340.8,137 L341.8,137.2 L342.8,137.4 L343.7,137.5 L344.5,137.7 L345.2,137.8 L345.9,137.9 L346.4,138 L346.7,138" stroke-width="1.9"/>
<path d="M193.3,226.4 L187.4,218.7 M200.1,224.4 L194.1,216.8 M206.7,222.2 L200.2,215 M213.3,219.5 L206.5,212.6 M219.6,216.6 L212.5,210 M225.8,213.2 L218.2,207.2 M231.7,209.2 L223.5,204 M237.3,204.6 L228.8,200 M242.6,199.8 L233.8,195.6 M247.5,194.7 L238.4,191.3 M252,189 L242.6,186.5 M256,183 L246.5,181.2 M259.4,177.1 L249.8,175.8 M262.8,171.6 L253.4,169.5 M267,167 L258.1,163.3 M271.6,163.4 L263.4,158.3 M276.8,160.7 L269.8,154 M282.6,159 L276.8,151.3 M289.2,157.4 L283.4,149.6 M295.7,155.9 L290.4,147.8 M302.6,154.1 L296.6,146.5 M309.7,150.9 L302.4,144.5 M315.6,147.8 L308.3,141.4 M321.3,145.7 L315.3,138.1 M327,145 L322.6,136.4 M333.4,145 L330,136 M339.4,145.9 L337.3,136.4 M346.1,147.1 L344.1,137.6" stroke-width="2.5"/>

</g>
</svg>
</body></html>
